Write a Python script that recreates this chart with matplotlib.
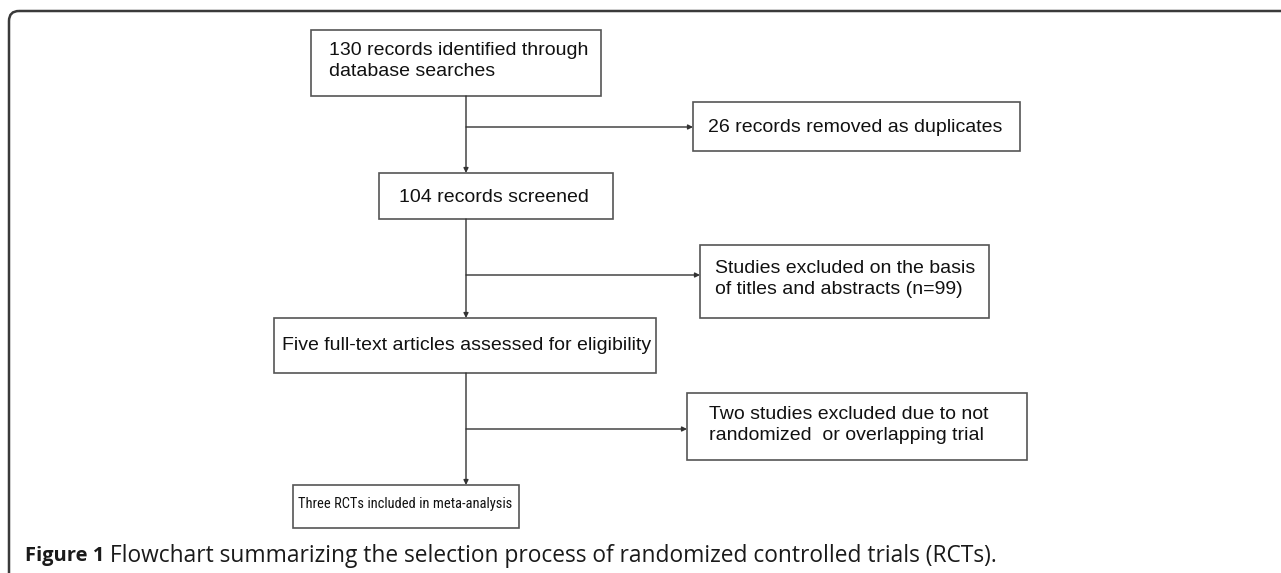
import matplotlib
matplotlib.use("Agg")
import matplotlib.pyplot as plt
import matplotlib.transforms as mtrans
from matplotlib.patches import Rectangle, FancyBboxPatch
from matplotlib import font_manager as fm

# ---- data (texts) ----
main_steps = [
    "130 records identified through\ndatabase searches",
    "104 records screened",
    "Five full-text articles assessed for eligibility",
    "Three RCTs included in meta-analysis",
]
exclusions = [
    "26 records removed as duplicates",
    "Studies excluded on the basis\nof titles and abstracts (n=99)",
    "Two studies excluded due to not\nrandomized  or overlapping trial",
]
caption_bold = "Figure 1"
caption_text = " Flowchart summarizing the selection process of randomized controlled trials (RCTs)."

# ---- layout (pixel coordinates, y downward) ----
W, H = 1281, 573
main_boxes = [(311, 30, 601, 96), (379, 173, 613, 219), (274, 318, 656, 373), (293, 485, 519, 528)]
main_text_xy = [(329, 61), (399, 197), (282, 346), (298, 504)]
excl_boxes = [(693, 102, 1020, 151), (700, 245, 989, 318), (687, 393, 1027, 460)]
excl_text_xy = [(708, 127), (715, 279), (709, 425)]
spine_x = 466
branch_y = [127, 275, 429]
BODY_SIZE = 14

# condensed sans font for the last box
names = {f.name for f in fm.fontManager.ttflist}
preferred = ["Liberation Sans Narrow", "Roboto Condensed", "Open Sans Condensed",
             "Noto Sans Condensed", "Arial Narrow"]
cond_font = next((n for n in preferred if n in names), None)
if cond_font is None:
    for f in fm.fontManager.ttflist:
        if ("Narrow" in f.name or "Condensed" in f.name) and f.weight in (400, "normal", "regular") \
                and "Serif" not in f.name:
            cond_font = f.name
            break
if cond_font is None:
    cond_font = "Liberation Sans"

fig = plt.figure(figsize=(W / 100, H / 100), dpi=100)
ax = fig.add_axes([0, 0, 1, 1])
ax.set_xlim(0, W)
ax.set_ylim(H, 0)
ax.axis("off")
renderer = fig.canvas.get_renderer()

# outer rounded frame
frame = FancyBboxPatch((9, 11), W + 40, H + 40, boxstyle="round,pad=0,rounding_size=10",
                       fc="none", ec="#3a3a3a", lw=1.8, clip_on=False)
ax.add_patch(frame)

box_ec = "#555555"
line_c = "#333333"

def box(b):
    x0, y0, x1, y1 = b
    ax.add_patch(Rectangle((x0, y0), x1 - x0, y1 - y0, fc="white", ec=box_ec, lw=1.2))

def fit_width(t, target):
    w = t.get_window_extent(renderer).width
    t.set_fontsize(t.get_fontsize() * target / w)

for i, (b, t, xy) in enumerate(zip(main_boxes, main_steps, main_text_xy)):
    box(b)
    if i == 3:
        tt = ax.text(xy[0], xy[1], t, ha="left", va="center", fontsize=BODY_SIZE,
                     family=cond_font, color="#111111")
        fit_width(tt, 216)
    else:
        ax.text(xy[0], xy[1], t, ha="left", va="center", fontsize=BODY_SIZE,
                family="Liberation Sans", color="#111111", linespacing=1.25)

for b, t, xy in zip(excl_boxes, exclusions, excl_text_xy):
    box(b)
    ax.text(xy[0], xy[1], t, ha="left", va="center", fontsize=BODY_SIZE, family="Liberation Sans",
            color="#111111", linespacing=1.25)

arrow = dict(arrowstyle="-|>", color=line_c, lw=1.0, mutation_scale=7, shrinkA=0, shrinkB=0)

for k in range(3):
    y_start = main_boxes[k][3]
    y_end = main_boxes[k + 1][1]
    ax.annotate("", xy=(spine_x, y_end), xytext=(spine_x, y_start), arrowprops=arrow)
    ax.annotate("", xy=(excl_boxes[k][0], branch_y[k]), xytext=(spine_x, branch_y[k]),
                arrowprops=arrow)

# caption
t1 = ax.text(25, 556, caption_bold, ha="left", va="center", fontsize=14.5,
             family="Open Sans", weight="bold", color="#1a1a1a")
fig.canvas.draw()
bb = t1.get_window_extent(renderer)
t2 = ax.text(bb.x1, 556, caption_text, ha="left", va="center", fontsize=14.5,
             family="Open Sans", color="#1a1a1a",
             transform=mtrans.blended_transform_factory(mtrans.IdentityTransform(), ax.transData))
fit_width(t2, 1000 - bb.x1)

fig.savefig("out.png", dpi=100)
